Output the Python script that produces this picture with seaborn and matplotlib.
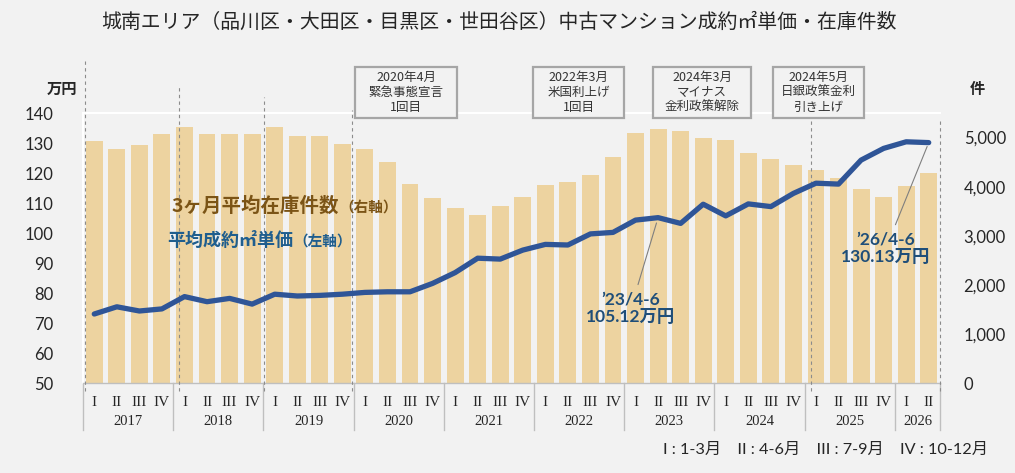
import matplotlib
matplotlib.use("Agg")
import matplotlib.pyplot as plt
import seaborn as sns
import numpy as np
import pandas as pd
from matplotlib.patches import Rectangle
from matplotlib.transforms import blended_transform_factory

# ---------------- data ----------------
years = ["2017", "2018", "2019", "2020", "2021", "2022", "2023", "2024", "2025", "2026"]
quarters = ["I", "II", "III", "IV"]
quarter_counts = [4, 4, 4, 4, 4, 4, 4, 4, 4, 2]

inventory = [4930, 4767, 4848, 5072,
             5215, 5072, 5072, 5072,
             5215, 5031, 5031, 4868,
             4767, 4502, 4054, 3769,
             3565, 3422, 3606, 3789,
             4033, 4094, 4237, 4604,
             5093, 5174, 5133, 4991,
             4950, 4685, 4562, 4441,
             4339, 4176, 3952, 3789,
             4013, 4278]

price = [73.0, 75.4, 74.0, 74.7,
         78.8, 77.1, 78.2, 76.3,
         79.6, 79.0, 79.2, 79.6,
         80.2, 80.4, 80.4, 83.2,
         86.8, 91.6, 91.3, 94.3,
         96.2, 96.0, 99.7, 100.2,
         104.3, 105.12, 103.2, 109.6,
         105.7, 109.7, 108.8, 113.2,
         116.6, 116.3, 124.3, 128.2,
         130.4, 130.13]

left_ticks = [50, 60, 70, 80, 90, 100, 110, 120, 130, 140]
right_ticks = [0, 1000, 2000, 3000, 4000, 5000]

events = ["2020年4月\n緊急事態宣言\n1回目",
          "2022年3月\n米国利上げ\n1回目",
          "2024年3月\nマイナス\n金利政策解除",
          "2024年5月\n日銀政策金利\n引き上げ"]
# dashed guide positions (in quarter-index units) and their top heights (axes fraction)
guide_x = [-0.41, 3.77, 7.54, 11.44, 31.8, 37.5]
guide_top = [1.204, 1.096, 1.06, 1.011, 0.978, 0.978]

title = "城南エリア（品川区・大田区・目黒区・世田谷区）中古マンション成約㎡単価・在庫件数"
note = "I : 1-3月　II : 4-6月　III : 7-9月　IV : 10-12月"

cats = []
qlabels = []
for y, c in zip(years, quarter_counts):
    for q in quarters[:c]:
        cats.append(f"{y}-{q}")
        qlabels.append(q)
n = len(cats)

# ---------------- figure ----------------
W, H = 1015, 473
BG = "#f2f2f2"
CJK = ["Noto Sans CJK JP", "DejaVu Sans"]
NUM = ["Lato", "Noto Sans CJK JP", "DejaVu Sans"]
SERIF = ["Liberation Serif", "DejaVu Serif"]

def fx(px):
    return px / W

def fy(py):
    return 1 - py / H

fig = plt.figure(figsize=(W / 100, H / 100), dpi=100, facecolor=BG)
ax_bar = fig.add_axes([fx(83), fy(383), fx(940) - fx(83), fy(113) - fy(383)])
ax_bar.set_facecolor(BG)

df = pd.DataFrame({"q": cats, "inv": inventory, "price": price, "pos": np.arange(n)})
sns.barplot(data=df, x="q", y="inv", ax=ax_bar, color="#EDD3A0", saturation=1,
            width=0.75, zorder=2)
ax_bar.set_ylim(0, 5500)
ax_bar.set_xlim(-0.5, n - 0.5)

ax_line = ax_bar.twinx()
sns.lineplot(data=df, x="pos", y="price", ax=ax_line, color="#2F5597",
             linewidth=3.8, solid_joinstyle="round", solid_capstyle="round")
ax_line.set_ylim(50, 140)
ax_line.set_xlim(-0.5, n - 0.5)

ax_bar.yaxis.tick_right()
ax_line.yaxis.tick_left()

ax_bar.set_yticks(right_ticks, labels=[f"{v:,}" for v in right_ticks])
ax_line.set_yticks(left_ticks, labels=[str(v) for v in left_ticks])
ax_bar.set_xticks(range(n), labels=qlabels)

for a in (ax_bar, ax_line):
    a.set_xlabel("")
    a.set_ylabel("")
    a.grid(False)

ax_bar.tick_params(axis="y", length=0, pad=17, labelsize=12, labelcolor="#262626")
ax_line.tick_params(axis="y", length=0, pad=21, labelsize=12, labelcolor="#262626")
ax_bar.tick_params(axis="x", length=0, pad=9, labelsize=11, labelcolor="#262626")
for t in ax_bar.get_xticklabels():
    t.set_fontfamily(SERIF)
for t in ax_bar.get_yticklabels() + ax_line.get_yticklabels():
    t.set_fontfamily(NUM)

for s in ax_line.spines.values():
    s.set_visible(False)
ax_bar.spines["top"].set_color("white")
ax_bar.spines["top"].set_linewidth(1.5)
ax_bar.spines["left"].set_color("white")
ax_bar.spines["left"].set_linewidth(1.5)
ax_bar.spines["right"].set_visible(False)
ax_bar.spines["bottom"].set_color("#bfbfbf")
ax_bar.spines["bottom"].set_linewidth(1.0)

trans = blended_transform_factory(ax_bar.transData, ax_bar.transAxes)

# year labels and separators
start = 0
bounds = [-0.5]
for y, c in zip(years, quarter_counts):
    center = start + (c - 1) / 2
    ax_bar.text(center, -0.144, y, transform=trans, ha="center", va="center",
                fontsize=10.5, family=SERIF, color="#262626")
    start += c
    bounds.append(start - 0.5)
for b in bounds:
    ax_bar.plot([b, b], [0, -0.174], transform=trans, color="#bfbfbf", lw=1.0,
                clip_on=False)

# dashed guides
for gx, gt in zip(guide_x, guide_top):
    ax_bar.plot([gx, gx], [-0.03, gt], transform=trans, color="#8c8c8c", lw=0.8,
                ls=(0, (3, 3)), clip_on=False, zorder=3)

# event boxes
box_px = [(355, 457), (533, 624), (653, 751), (773, 864)]
for (x0, x1), txt in zip(box_px, events):
    fig.add_artist(Rectangle((fx(x0), fy(118)), fx(x1) - fx(x0), fy(67) - fy(118),
                             transform=fig.transFigure, facecolor=BG,
                             edgecolor="#a6a6a6", lw=1.6, zorder=5))
    fig.text(fx((x0 + x1) / 2), fy(92.5), txt, ha="center", va="center",
             fontsize=9, family=CJK, color="#333333", linespacing=1.2, zorder=6)

# title and axis units
fig.text(fx(499), fy(22), title, ha="center", va="center", fontsize=14.3,
         family=CJK, color="#262626")
fig.text(fx(62), fy(89), "万円", ha="center", va="center", fontsize=11,
         family=CJK, weight="bold", color="#262626")
fig.text(fx(977), fy(89), "件", ha="center", va="center", fontsize=11,
         family=CJK, weight="bold", color="#262626")

# series labels
brown = "#7B5416"
blue = "#1F5E8E"
t1 = fig.text(fx(172), fy(206), "3ヶ月平均在庫件数", ha="left", va="center",
              fontsize=14, family=CJK, weight="bold", color=brown)
fig.add_artist(matplotlib.text.Annotation(
    "（右軸）", xy=(1.0, 0.45), xycoords=t1, ha="left", va="center",
    fontsize=10.5, family=CJK, weight="bold", color=brown))
t2 = fig.text(fx(167), fy(240), "平均成約㎡単価", ha="left", va="center",
              fontsize=13, family=CJK, weight="bold", color=blue)
fig.add_artist(matplotlib.text.Annotation(
    "（左軸）", xy=(1.0, 0.45), xycoords=t2, ha="left", va="center",
    fontsize=10.5, family=CJK, weight="bold", color=blue))

# callouts
ann_color = "#1F4E79"
i23 = cats.index("2023-II")
i26 = cats.index("2026-II")
ax_line.annotate(f"’23/4-6\n{price[i23]:.2f}万円", xy=(i23, price[i23]),
                 xytext=(fx(631), fy(308)), textcoords="figure fraction",
                 ha="center", va="center", fontsize=12.5, weight="bold",
                 family=NUM, color=ann_color, linespacing=1.1,
                 arrowprops=dict(arrowstyle="-", color="#7f7f7f", lw=0.8,
                                 shrinkA=3, shrinkB=4))
ax_line.annotate(f"’26/4-6\n{price[i26]:.2f}万円", xy=(i26, price[i26]),
                 xytext=(fx(886), fy(248)), textcoords="figure fraction",
                 ha="center", va="center", fontsize=12.5, weight="bold",
                 family=NUM, color=ann_color, linespacing=1.1,
                 arrowprops=dict(arrowstyle="-", color="#7f7f7f", lw=0.8,
                                 shrinkA=3, shrinkB=3))

fig.text(fx(988), fy(450), note, ha="right", va="center", fontsize=11.7,
         family=NUM, color="#262626")

fig.savefig("out.png", dpi=100, facecolor=BG)
